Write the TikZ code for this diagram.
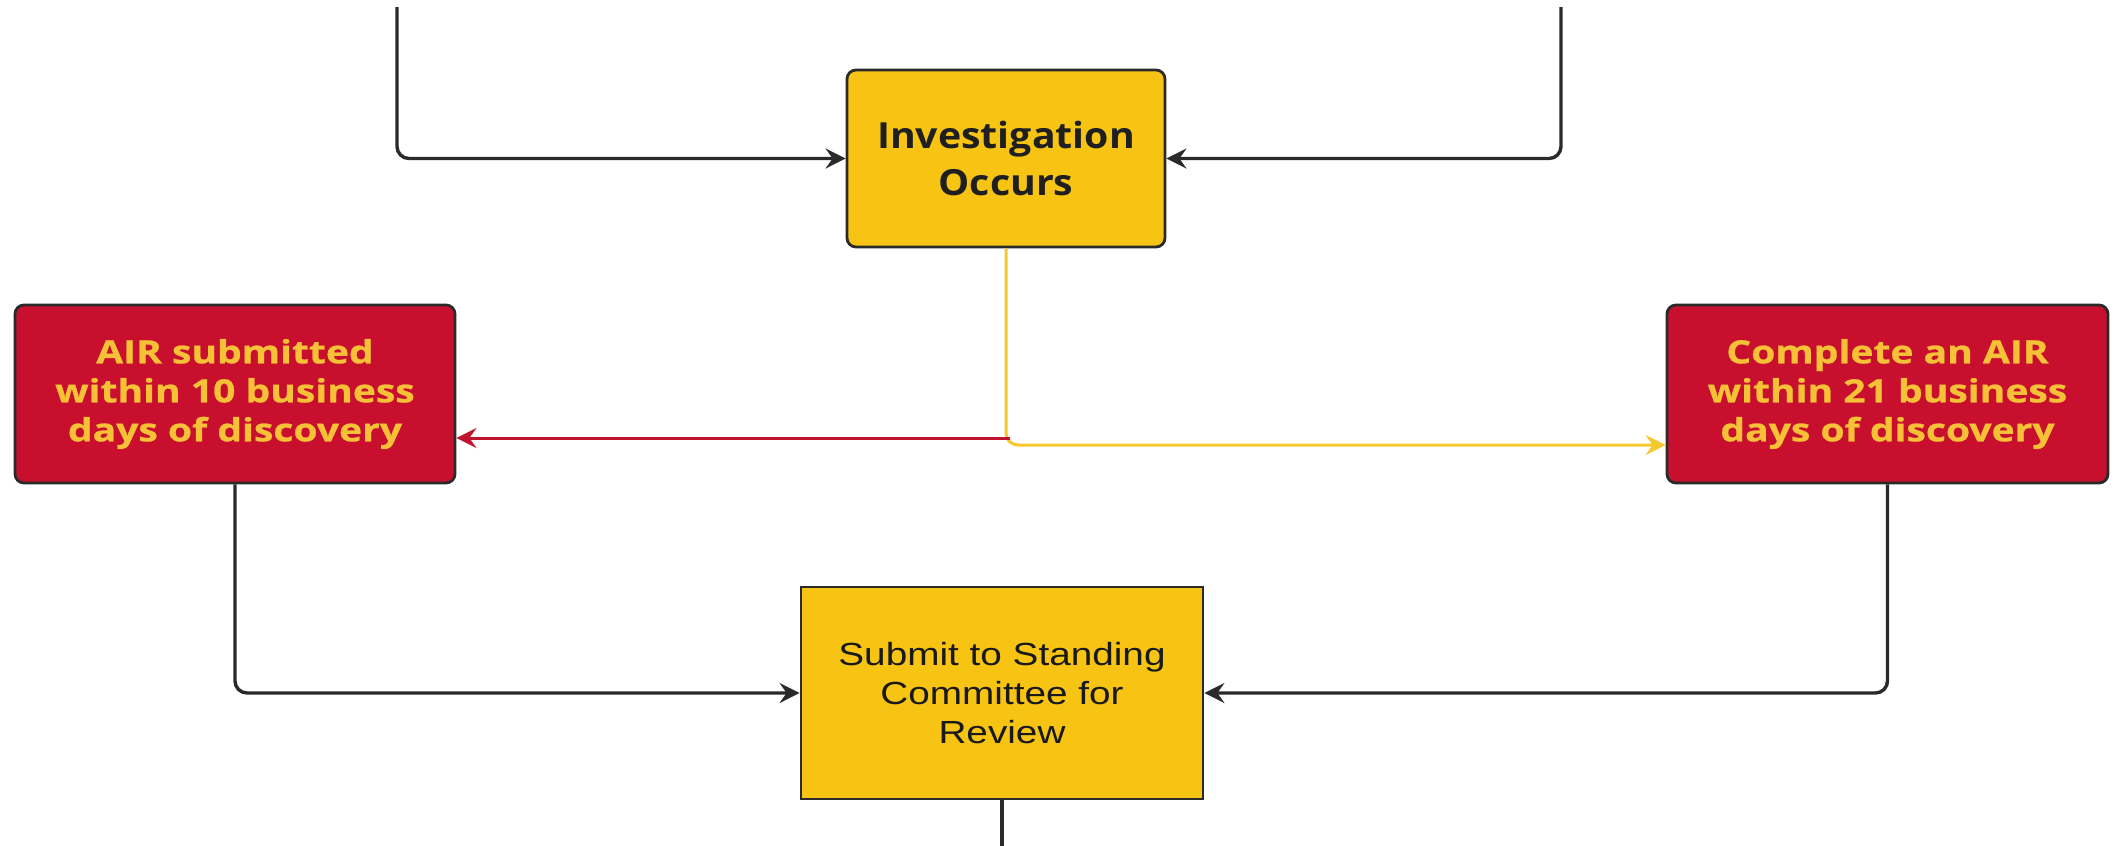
\documentclass[tikz,border=0pt]{standalone}
\usepackage{fontspec}
\setmainfont{Open Sans}
\newfontfamily\invfont[FakeStretch=1.09]{Open Sans}
\newfontfamily\redfont[FakeStretch=1.22,FakeBold=0.8]{Open Sans}
\newfontfamily\arialfont[FakeStretch=1.21]{Liberation Sans}
\usetikzlibrary{arrows.meta}
\definecolor{boxyellow}{HTML}{F7C414}
\definecolor{boxred}{HTML}{C8102E}
\definecolor{txtyellow}{HTML}{F6C137}
\definecolor{lineyellow}{HTML}{F5C82E}
\definecolor{linered}{HTML}{C0142E}
\definecolor{darkline}{HTML}{2A2A2A}
\tikzset{
  ybox/.style={draw=darkline, line width=2.8pt, fill=boxyellow, rounded corners=9pt, align=center, inner sep=0pt},
  rbox/.style={draw=darkline, line width=2.8pt, fill=boxred, rounded corners=9pt, align=center, inner sep=0pt,
    text=txtyellow, font=\redfont\fontsize{32}{39}\selectfont\bfseries},
  sbox/.style={draw=darkline, line width=2.8pt, fill=boxyellow, align=center, inner sep=0pt,
    font=\arialfont\fontsize{32}{39}\selectfont, text=black!90},
  conn/.style={line width=3.4pt, draw=darkline, rounded corners=12pt,
    -{Stealth[length=20pt,width=20pt,inset=7pt]}},
  plain/.style={line width=3.4pt, draw=darkline},
  yconn/.style={conn, draw=lineyellow, line width=3pt, -{Stealth[length=20pt,width=20pt,inset=7pt,fill=lineyellow]}},
  rconn/.style={conn, draw=linered, line width=3pt, -{Stealth[length=20pt,width=20pt,inset=7pt,fill=linered]}},
}
\begin{document}
\begin{tikzpicture}[x=1pt,y=-1pt]
\useasboundingbox (0,0) rectangle (2118,846);
\node[ybox, minimum width=318pt, minimum height=177pt,
  font=\invfont\fontsize{36}{47}\selectfont\bfseries, text=black!88] (inv) at (1006,158.5) {Investigation\\Occurs};
\node[rbox, minimum width=440pt, minimum height=178pt] (air10) at (235,394) {AIR submitted\\within 10 business\\days of discovery};
\node[rbox, minimum width=441pt, minimum height=178pt] (air21) at (1887.5,394) {Complete an AIR\\within 21 business\\days of discovery};
\node[sbox, minimum width=402pt, minimum height=212pt] (sub) at (1002,693) {Submit to Standing\\Committee for\\Review};
\coordinate (tl) at (397,7);
\coordinate (tr) at (1561,7);
\coordinate (split) at (1010,438);
\coordinate (bot) at (1002,846);
\draw[conn] (tl) |- (inv.west);
\draw[conn] (tr) |- (inv.east);
\draw[yconn] (inv.south) |- ([yshift=-51pt]air21.west);
\draw[rconn, rounded corners=0pt] (split) -- (air10.east |- split);
\draw[conn] (air10.south -| 235,0) |- (sub.west);
\draw[conn] (air21.south) |- (sub.east);
\draw[plain] (sub.south) -- (bot);
\end{tikzpicture}
\end{document}
